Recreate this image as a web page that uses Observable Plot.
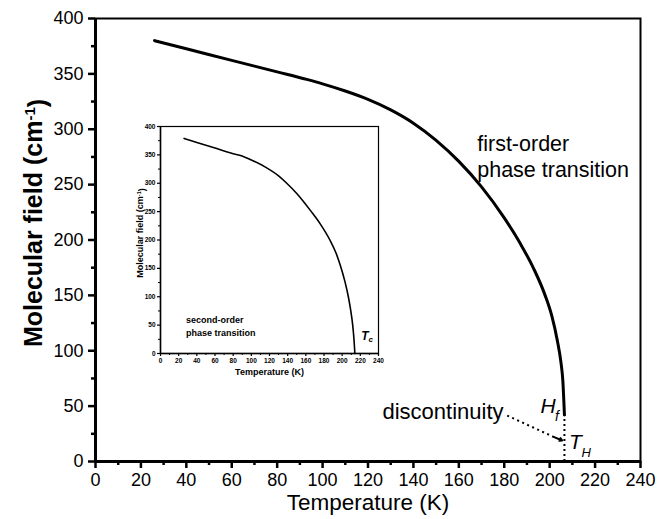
<!DOCTYPE html>
<html><head><meta charset="utf-8">
<script src="https://cdn.jsdelivr.net/npm/d3@7"></script>
<script src="https://cdn.jsdelivr.net/npm/@observablehq/plot@0.6"></script>
<style>
body{margin:0;background:#fff;}
#wrap{position:relative;width:669px;height:519px;font-family:"Liberation Sans",Arial,sans-serif;}
#inset{position:absolute;left:120px;top:110px;}
svg{overflow:visible;}
</style></head><body><div id="wrap"><div id="main"></div><div id="inset"></div></div>
<script>
// Main curve (first-order transition)
const mainT = [26, 40, 60, 80, 93, 100, 110, 120, 130, 140, 150, 160, 170, 180, 187, 193, 198, 201, 203.3, 205, 205.8, 206.5];
const mainV = [380, 372.7, 362.2, 351.8, 345, 341, 334.5, 327, 317.5, 305.5, 290, 271, 248, 220, 197, 174, 150, 131, 110, 89, 73, 42];
// Inset curve (second-order transition)
const insetT = [26, 40, 60, 80, 88, 100, 116, 130, 139, 150, 166, 176, 186.5, 193, 198, 203, 206.8, 209.5, 211.6, 213, 214];
const insetV = [379, 372, 362, 352, 349, 341, 328, 313, 300, 282, 250, 228, 200, 178, 155, 127, 100, 75, 50, 25, 0];
// discontinuity
const TH = 206.5, Hf = 42;
// ticks
const xMajor = [0, 20, 40, 60, 80, 100, 120, 140, 160, 180, 200, 220, 240];
const xMinor = [10, 30, 50, 70, 90, 110, 130, 150, 170, 190, 210, 230];
const yMajor = [0, 50, 100, 150, 200, 250, 300, 350, 400];
const yMinor = [25, 75, 125, 175, 225, 275, 325, 375];

const mainData = mainT.map((t, i) => ({t, v: mainV[i]}));
const insetData = insetT.map((t, i) => ({t, v: insetV[i]}));
const FF = '"Liberation Sans", Arial, sans-serif';

const main = Plot.plot({
  width: 669, height: 519,
  marginLeft: 95, marginRight: 29, marginTop: 18, marginBottom: 58,
  style: {fontFamily: FF, color: "#000", background: "transparent"},
  x: {domain: [0, 240]},
  y: {domain: [0, 400]},
  marks: [
    Plot.frame({stroke: "#000", strokeWidth: 2}),
    Plot.ruleX([0], {stroke: "#000", strokeWidth: 3}),
    Plot.ruleY([0], {stroke: "#000", strokeWidth: 3}),
    Plot.axisX(xMajor, {tickSize: 7, tickPadding: 5, strokeWidth: 2.5, fontSize: 18, label: null}),
    Plot.axisX(xMinor, {tickSize: 4, strokeWidth: 2.5, tickFormat: () => "", label: null}),
    Plot.axisY(yMajor, {tickSize: 7, tickPadding: 5, strokeWidth: 2.5, fontSize: 18, label: null}),
    Plot.axisY(yMinor, {tickSize: 4, strokeWidth: 2.5, tickFormat: () => "", label: null}),
    Plot.line(mainData, {x: "t", y: "v", stroke: "#000", strokeWidth: 3, curve: "monotone-x"}),
    Plot.ruleX([TH], {y1: 0, y2: Hf, stroke: "#000", strokeWidth: 2, strokeDasharray: "2,3"}),
    Plot.link([{x1: 181.3, y1: 41.5, x2: 202.5, y2: 21.5}], {x1: "x1", y1: "y1", x2: "x2", y2: "y2", stroke: "#000", strokeWidth: 2, strokeDasharray: "2,3.5"}),
    Plot.arrow([{x1: 202, y1: 22, x2: 205.5, y2: 19}], {x1: "x1", y1: "y1", x2: "x2", y2: "y2", stroke: "#000", strokeWidth: 2, headLength: 9}),
    Plot.text([{x: 168.1, y: 276.3, s: "first-order\nphase transition"}], {x: "x", y: "y", text: "s", textAnchor: "start", lineAnchor: "middle", lineHeight: 1.24, fontSize: 21.5}),
    Plot.text([{x: 179.7, y: 44.5, s: "discontinuity"}], {x: "x", y: "y", text: "s", textAnchor: "end", fontSize: 22}),
    Plot.text([{x: 196, y: 49.7, s: "H"}], {x: "x", y: "y", text: "s", textAnchor: "start", fontSize: 21, fontStyle: "italic"}),
    Plot.text([{x: 202.3, y: 41, s: "f"}], {x: "x", y: "y", text: "s", textAnchor: "start", fontSize: 14, fontStyle: "italic"}),
    Plot.text([{x: 208.5, y: 17.6, s: "T"}], {x: "x", y: "y", text: "s", textAnchor: "start", fontSize: 21, fontStyle: "italic"}),
    Plot.text([{x: 214, y: 8, s: "H"}], {x: "x", y: "y", text: "s", textAnchor: "start", fontSize: 13, fontStyle: "italic"}),
    Plot.text(["Temperature (K)"], {frameAnchor: "bottom", dy: 41, lineAnchor: "middle", text: d => d, fontSize: 22.5}),
    Plot.text(["Molecular field (cm-1)"], {frameAnchor: "left", dx: -62, dy: -17, rotate: -90, textAnchor: "middle", text: d => d, fontSize: 25, fontWeight: "bold"})
  ]
});
document.getElementById("main").appendChild(main);

const inset = Plot.plot({
  width: 265, height: 272,
  marginLeft: 40, marginRight: 7, marginTop: 16, marginBottom: 29,
  style: {fontFamily: FF, color: "#000", background: "#fff"},
  x: {domain: [0, 240]},
  y: {domain: [0, 400]},
  marks: [
    Plot.frame({stroke: "#000", strokeWidth: 1.2}),
    Plot.ruleX([0], {stroke: "#000", strokeWidth: 1.5}),
    Plot.ruleY([0], {stroke: "#000", strokeWidth: 1.5}),
    Plot.axisX(xMajor, {tickSize: 3, tickPadding: 2, strokeWidth: 1.2, fontSize: 6.5, fontWeight: "bold", label: null}),
    Plot.axisX(xMinor, {tickSize: 2, strokeWidth: 1, tickFormat: () => "", label: null}),
    Plot.axisY(yMajor, {tickSize: 3, tickPadding: 2, strokeWidth: 1.2, fontSize: 6.5, fontWeight: "bold", label: null}),
    Plot.axisY(yMinor, {tickSize: 2, strokeWidth: 1, tickFormat: () => "", label: null}),
    Plot.line(insetData, {x: "t", y: "v", stroke: "#000", strokeWidth: 1.6, curve: "monotone-x"}),
    Plot.text([{x: 28, y: 50, s: "second-order\nphase transition"}], {x: "x", y: "y", text: "s", textAnchor: "start", lineAnchor: "middle", lineHeight: 1.5, fontSize: 9, fontWeight: "bold"}),
    Plot.text([{x: 221, y: 30, s: "T"}], {x: "x", y: "y", text: "s", textAnchor: "start", fontSize: 12, fontStyle: "italic", fontWeight: "bold"}),
    Plot.text([{x: 229, y: 24, s: "c"}], {x: "x", y: "y", text: "s", textAnchor: "start", fontSize: 8, fontStyle: "italic", fontWeight: "bold"}),
    Plot.text(["Temperature (K)"], {frameAnchor: "bottom", dy: 19, lineAnchor: "middle", text: d => d, fontSize: 9, fontWeight: "bold"}),
    Plot.text(["Molecular field (cm-1)"], {frameAnchor: "left", dx: -20, dy: -7, rotate: -90, textAnchor: "middle", text: d => d, fontSize: 9, fontWeight: "bold"})
  ]
});
document.getElementById("inset").appendChild(inset);

// superscript for (cm-1)
d3.selectAll("svg text").filter(function() { return this.textContent === "Molecular field (cm-1)"; })
  .each(function() {
    const t = d3.select(this);
    t.text(null);
    t.append("tspan").text("Molecular field (cm");
    t.append("tspan").attr("dy", "-0.45em").attr("font-size", "0.6em").text("-1");
    t.append("tspan").attr("dy", "0.45em").text(")");
  });
</script>
</body></html>
